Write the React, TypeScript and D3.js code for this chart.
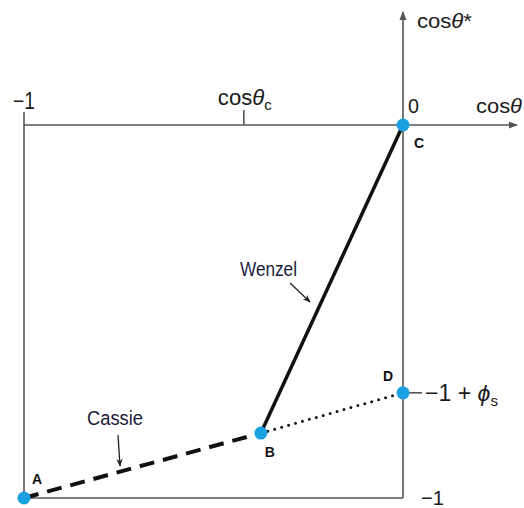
import React from "react";
import * as d3 from "d3";

// Characteristic points of the wetting diagram (cosθ, cosθ*)
const pointNames = ["A", "B", "C", "D"];
const pointX = [-1, -0.375, 0, 0];
const pointY = [-1, -0.826, 0, -0.718];
const cosThetaC = -0.42;
const phiLevel = -0.718;

const W = 524;
const H = 508;

const x = d3.scaleLinear().domain([-1, 0]).range([24, 403]);
const y = d3.scaleLinear().domain([-1, 0]).range([498, 125]);

const labelFont = "'Liberation Sans', Arial, sans-serif";
const pointFont = "'Liberation Sans', Arial, sans-serif";
const axisColor = "#555";
const dotColor = "#1ba1e2";

export default function App() {
  const P = pointNames.map((n, i) => ({ name: n, px: x(pointX[i]), py: y(pointY[i]) }));
  const [A, B, C, D] = P;
  const line = d3.line<[number, number]>();
  const labelOffsets: Record<string, [number, number]> = {
    A: [13, -14],
    B: [9, 24],
    C: [16, 23],
    D: [-15, -12],
  };
  // condensed look: squeeze glyphs to a set width
  const sq = (len: number) => ({ textLength: len, lengthAdjust: "spacingAndGlyphs" as const });
  return (
    <svg width={W} height={H} style={{ position: "absolute", left: 0, top: 0 }}>
      <defs>
        <marker id="axArrow" viewBox="0 0 10 10" refX="9" refY="5" markerWidth="9" markerHeight="9" orient="auto" markerUnits="userSpaceOnUse">
          <path d="M0,1 L10,5 L0,9 Z" fill={axisColor} />
        </marker>
        <marker id="noteArrow" viewBox="0 0 10 10" refX="9" refY="5" markerWidth="8" markerHeight="8" orient="auto" markerUnits="userSpaceOnUse">
          <path d="M0,1 L10,5 L0,9 L3,5 Z" fill="#222" />
        </marker>
      </defs>
      <rect width={W} height={H} fill="#fff" />

      {/* frame and axes */}
      <g stroke={axisColor} strokeWidth={1.6} fill="none">
        <path d={line([[x(-1), y(0) - 13], [x(-1), y(-1)], [x(0), y(-1)]])!} />
        <path d={line([[x(-1), y(0)], [517, y(0)]])!} markerEnd="url(#axArrow)" />
        <path d={line([[x(0), y(-1)], [x(0), 12]])!} markerEnd="url(#axArrow)" />
        <path d={line([[x(cosThetaC), y(0)], [x(cosThetaC), y(0) - 15]])!} />
        <path d={line([[x(0), y(phiLevel)], [x(0) + 19, y(phiLevel)]])!} />
      </g>

      {/* axis labels */}
      <g fontFamily={labelFont} fill="#1a1a1a">
        <text x={x(-1) - 11} y={109} fontSize={23} {...sq(22)}>−1</text>
        <text x={x(cosThetaC) - 26} y={105} fontSize={22} {...sq(54)}>
          cos<tspan fontStyle="italic">θ</tspan>
          <tspan fontSize={15} dy={5}>c</tspan>
        </text>
        <text x={x(0) + 5} y={113} fontSize={20} {...sq(11)}>0</text>
        <text x={476} y={113} fontSize={21} {...sq(46)}>
          cos<tspan fontStyle="italic">θ</tspan>
        </text>
        <text x={417} y={28} fontSize={21} {...sq(55)}>
          cos<tspan fontStyle="italic">θ</tspan>*
        </text>
        <text x={425} y={y(phiLevel) + 8} fontSize={23} {...sq(73)}>
          −1 + <tspan fontStyle="italic">ϕ</tspan>
          <tspan fontSize={15} dy={5}>s</tspan>
        </text>
        <text x={421} y={505} fontSize={21} {...sq(23)}>−1</text>
      </g>

      {/* regimes */}
      <path d={line([[A.px, A.py], [B.px, B.py]])!} stroke="#111" strokeWidth={4} strokeDasharray="15 9" fill="none" />
      <path d={line([[B.px, B.py], [C.px, C.py]])!} stroke="#111" strokeWidth={3.5} fill="none" />
      <path d={line([[B.px, B.py], [D.px, D.py]])!} stroke="#111" strokeWidth={3} strokeDasharray="0 7.2" strokeLinecap="round" fill="none" />

      {/* annotations */}
      <g fontFamily={labelFont} fill="#1a1a3a" fontSize={20}>
        <text x={240} y={276} {...sq(57)}>Wenzel</text>
        <text x={87} y={425} {...sq(56)}>Cassie</text>
      </g>
      <g stroke="#222" strokeWidth={1.3}>
        <path d={line([[290, 283], [310, 302]])!} markerEnd="url(#noteArrow)" />
        <path d={line([[118, 435], [120, 466]])!} markerEnd="url(#noteArrow)" />
      </g>

      {/* points */}
      {P.map((p) => (
        <g key={p.name}>
          <circle cx={p.px} cy={p.py} r={6.5} fill={dotColor} />
          <text
            x={p.px + labelOffsets[p.name][0]}
            y={p.py + labelOffsets[p.name][1]}
            fontFamily={pointFont}
            fontWeight="bold"
            fontSize={14}
            textAnchor="middle"
            fill="#111"
          >
            {p.name}
          </text>
        </g>
      ))}
    </svg>
  );
}
